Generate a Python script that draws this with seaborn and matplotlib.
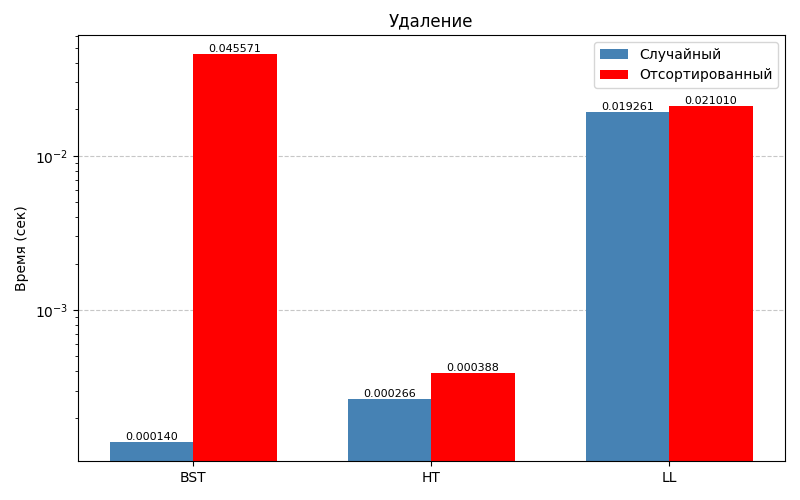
import numpy as np
import pandas as pd
import matplotlib
matplotlib.use("Agg")
import matplotlib.pyplot as plt
import seaborn as sns

structures = ["BST", "HT", "LL"]
random_times = [0.000140, 0.000266, 0.019261]
sorted_times = [0.045571, 0.000388, 0.021010]
series_names = ["Случайный", "Отсортированный"]
colors = ["steelblue", "red"]

df = pd.DataFrame({
    "structure": structures * 2,
    "time": random_times + sorted_times,
    "order": [series_names[0]] * 3 + [series_names[1]] * 3,
})

fig, ax = plt.subplots(figsize=(8, 5), dpi=100)
sns.barplot(data=df, x="structure", y="time", hue="order",
            palette=colors, width=0.7, ax=ax, saturation=1,
            errorbar=None)
ax.set_yscale("log")

for c in ax.containers:
    ax.bar_label(c, fmt="%.6f", fontsize=8)

vals = np.array(random_times + sorted_times)
lo, hi = np.log10(vals.min()), np.log10(vals.max())
rng = hi - lo
ax.set_ylim(10 ** (lo - 0.05 * rng), 10 ** (hi + 0.05 * rng))
ax.set_xlim(-0.35 - 0.135, 2.35 + 0.135)

ax.yaxis.grid(True, which="major", linestyle="--", alpha=0.7)
ax.xaxis.grid(False)
ax.set_axisbelow(True)
ax.set_title("Удаление")
ax.set_ylabel("Время (сек)")
ax.set_xlabel("")
ax.legend(loc="upper right")

fig.subplots_adjust(left=0.0975, right=0.981, top=0.93, bottom=0.078)
fig.savefig("out.png", dpi=100)
